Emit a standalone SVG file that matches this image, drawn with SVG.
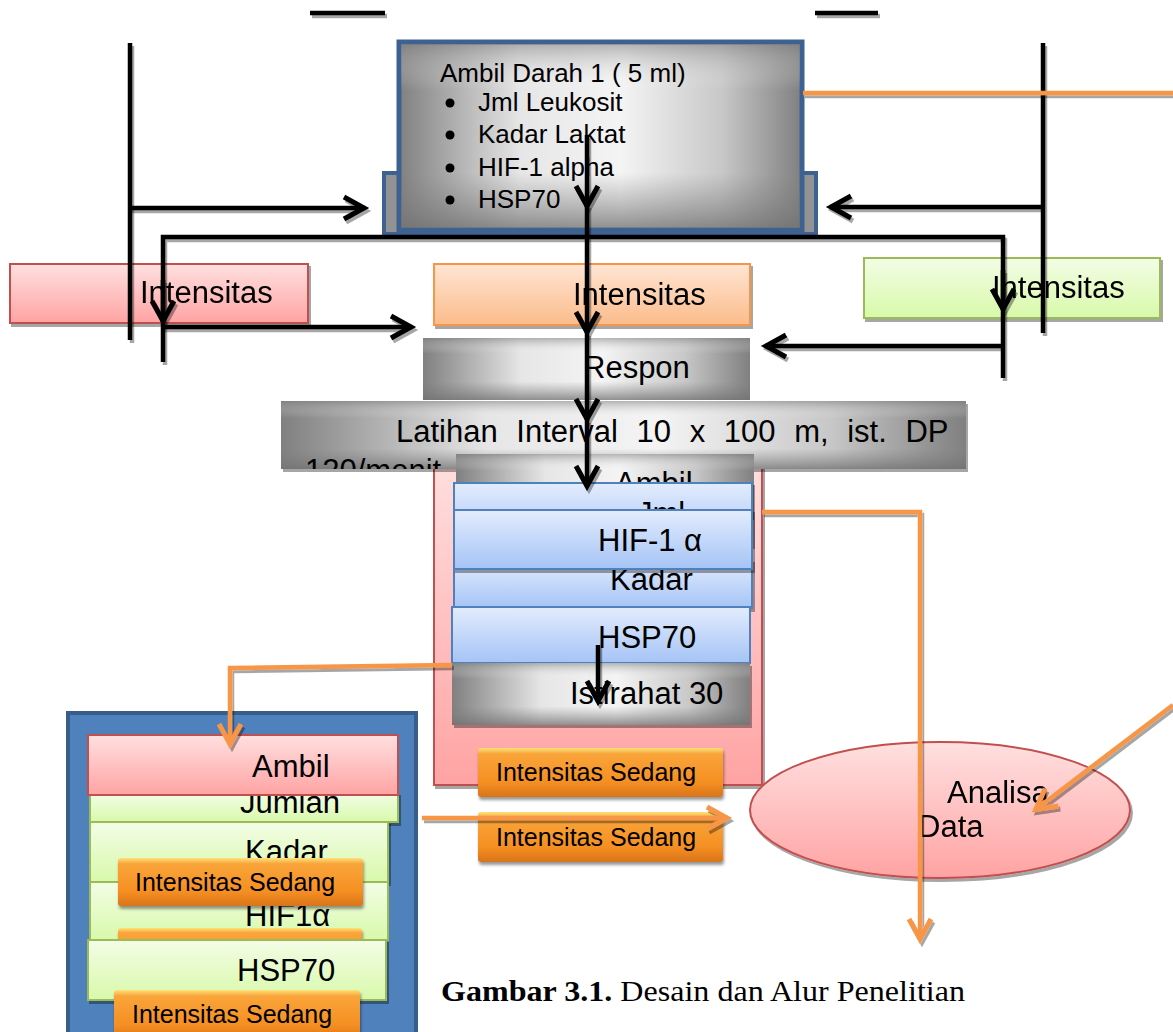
<svg xmlns="http://www.w3.org/2000/svg" width="1173" height="1032" viewBox="0 0 1173 1032">
<style>
text{font-family:"Liberation Sans",Arial,sans-serif;fill:#000}
.big{font-size:31px}
.mid{font-size:26px}
.btn{font-size:25px}
.cap{font-family:"Liberation Serif","Times New Roman",serif;font-size:29px}
.ln{fill:none;stroke:#000;stroke-width:4.5;filter:url(#shl)}
.ol{fill:none;stroke:#f79646;stroke-width:4.5;filter:url(#shl)}
.pink{fill:url(#gPink);stroke:#c0504d;stroke-width:2}
.peach{fill:url(#gPeach);stroke:#f79646;stroke-width:2}
.green{fill:url(#gGreen);stroke:#9bbb59;stroke-width:2}
.blue{fill:url(#gBlue);stroke:#4f81bd;stroke-width:2}
.gray{fill:url(#gGrayH)}
.grayv{fill:url(#gGrayV)}
.obtn{fill:url(#gOrange);filter:url(#sh2)}
.shd{filter:url(#sh)}
</style>
<defs>
<filter id="sh" x="-10%" y="-10%" width="130%" height="140%"><feDropShadow dx="2" dy="3" stdDeviation="0.6" flood-color="#000" flood-opacity="0.35"/></filter>
<filter id="shl" filterUnits="userSpaceOnUse" x="-20" y="-20" width="1220" height="1080"><feDropShadow dx="2" dy="3" stdDeviation="0.6" flood-color="#000" flood-opacity="0.35"/></filter>
<filter id="sh2" x="-10%" y="-10%" width="130%" height="140%"><feDropShadow dx="1" dy="3" stdDeviation="1.5" flood-color="#000" flood-opacity="0.4"/></filter>
<linearGradient id="gPink" x1="0" y1="0" x2="0" y2="1"><stop offset="0" stop-color="#ffe0e0"/><stop offset="1" stop-color="#ffa3a3"/></linearGradient>
<linearGradient id="gPeach" x1="0" y1="0" x2="0" y2="1"><stop offset="0" stop-color="#ffe5d4"/><stop offset="1" stop-color="#fbbc8b"/></linearGradient>
<linearGradient id="gGreen" x1="0" y1="0" x2="0" y2="1"><stop offset="0" stop-color="#f3fde6"/><stop offset="1" stop-color="#d8f9aa"/></linearGradient>
<linearGradient id="gBlue" x1="0" y1="0" x2="0" y2="1"><stop offset="0" stop-color="#e3ecfd"/><stop offset="1" stop-color="#a5c4f6"/></linearGradient>
<linearGradient id="gOrange" x1="0" y1="0" x2="0" y2="1"><stop offset="0" stop-color="#fde17a"/><stop offset="0.12" stop-color="#f9a53a"/><stop offset="0.7" stop-color="#f58f22"/><stop offset="1" stop-color="#d9741a"/></linearGradient>
<linearGradient id="gGrayH" x1="0" y1="0" x2="1" y2="0"><stop offset="0" stop-color="#808080"/><stop offset="0.3" stop-color="#e6e6e6"/><stop offset="0.55" stop-color="#f4f4f4"/><stop offset="0.8" stop-color="#c8c8c8"/><stop offset="1" stop-color="#808080"/></linearGradient>
<linearGradient id="gGrayV" x1="0" y1="0" x2="0" y2="1"><stop offset="0" stop-color="#808080" stop-opacity="0.55"/><stop offset="0.25" stop-color="#ffffff" stop-opacity="0"/><stop offset="0.7" stop-color="#808080" stop-opacity="0"/><stop offset="1" stop-color="#707070" stop-opacity="0.75"/></linearGradient>
<marker id="ab" markerUnits="userSpaceOnUse" markerWidth="34" markerHeight="34" refX="24" refY="14" orient="auto"><path d="M3,3 L23,14 L3,25" fill="none" stroke="#000" stroke-width="5"/></marker>
<marker id="ao" markerUnits="userSpaceOnUse" markerWidth="34" markerHeight="34" refX="24" refY="14" orient="auto"><path d="M3,3 L23,14 L3,25" fill="none" stroke="#f79646" stroke-width="5"/></marker>
<clipPath id="clipLat"><rect x="281" y="401" width="685" height="68"/></clipPath>
</defs>

<g id="top-bars">
<line class="ln" x1="310" y1="13" x2="385" y2="13"/>
<line class="ln" x1="815" y1="13" x2="878" y2="13"/>
</g>

<g id="node-ambil-darah-1">
<rect x="384" y="173" width="432" height="61" fill="#939393" stroke="#3d6292" stroke-width="4"/>
<rect x="399" y="42" width="403" height="188" class="gray" stroke="#3d6292" stroke-width="5"/>
<rect x="401" y="44" width="399" height="184" class="grayv"/>
<text x="440" y="82" class="mid">Ambil Darah 1 ( 5 ml)</text>
<circle cx="450" cy="103" r="4.5"/><text x="478" y="111" class="mid">Jml Leukosit</text>
<circle cx="450" cy="135" r="4.5"/><text x="478" y="143" class="mid">Kadar Laktat</text>
<circle cx="450" cy="168" r="4.5"/><text x="478" y="176" class="mid">HIF-1 alpha</text>
<circle cx="450" cy="200" r="4.5"/><text x="478" y="208" class="mid">HSP70</text>
</g>

<g id="node-intensitas-red" class="shd">
<rect x="10" y="264" width="298" height="59" class="pink"/>
<text x="140" y="303" class="big">Intensitas</text>
</g>
<g id="node-intensitas-orange" class="shd">
<rect x="434" y="264" width="316" height="61" class="peach"/>
<text x="573" y="305" class="big">Intensitas</text>
</g>
<g id="node-intensitas-green" class="shd">
<rect x="864" y="258" width="296" height="60" class="green"/>
<text x="992" y="298" class="big">Intensitas</text>
</g>

<g id="node-respon">
<rect x="423" y="338" width="327" height="62" class="gray"/>
<rect x="423" y="338" width="327" height="62" class="grayv"/>
<text x="583" y="378" class="big">Respon</text>
</g>

<g id="node-container-center">
<rect x="434" y="455" width="328" height="330" class="pink shd"/>
</g>

<g id="node-latihan">
<rect x="281" y="401" width="685" height="68" class="gray shd"/>
<rect x="281" y="401" width="685" height="68" class="grayv"/>
<g clip-path="url(#clipLat)">
<text x="396" y="442" class="big" word-spacing="10">Latihan Interval 10 x 100 m, ist. DP</text>
<text x="305" y="481" class="big" word-spacing="10">120/menit</text>
</g>
</g>

<g id="node-ambil-center">
<rect x="456" y="454" width="298" height="66" class="gray"/>
<rect x="456" y="454" width="298" height="66" class="grayv"/>
<text x="615" y="494" class="big">Ambil</text>
</g>
<g id="node-jml-center">
<rect x="454" y="483" width="298" height="62" class="blue shd"/>
<text x="637" y="524" class="big">Jml</text>
</g>
<g id="node-kadar-center">
<rect x="454" y="560" width="298" height="48" class="blue shd"/>
<text x="610" y="590" class="big">Kadar</text>
</g>
<g id="node-hif-center">
<rect x="454" y="510" width="298" height="59" class="blue shd"/>
<text x="598" y="551" class="big">HIF-1 α</text>
</g>
<g id="node-hsp-center">
<rect x="452" y="607" width="298" height="56" class="blue"/>
<text x="598" y="648" class="big">HSP70</text>
</g>
<g id="node-istirahat">
<rect x="452" y="663" width="298" height="62" class="gray shd"/>
<rect x="452" y="663" width="298" height="62" class="grayv"/>
<text x="570" y="704" class="big">Istirahat 30</text>
</g>
<g id="node-sedang-c1">
<rect x="478" y="748" width="245" height="49" rx="3" class="obtn"/>
<text x="496" y="781" class="btn">Intensitas Sedang</text>
</g>
<g id="node-sedang-c2">
<rect x="478" y="812" width="245" height="50" rx="3" class="obtn"/>
<text x="496" y="846" class="btn">Intensitas Sedang</text>
</g>

<g id="node-analisa" class="shd">
<ellipse cx="940" cy="810" rx="190" ry="68" fill="url(#gPink)" stroke="#c0504d" stroke-width="2"/>
<text x="947" y="803" class="big">Analisa</text>
<text x="918" y="837" class="big">Data</text>
</g>

<g id="node-container-left">
<rect x="68" y="713" width="348" height="330" fill="#4f81bd" stroke="#385d8a" stroke-width="4"/>
</g>
<g id="node-jumlah-left">
<rect x="90" y="793" width="308" height="29" class="green shd"/>
<text x="240" y="813" class="big">Jumlah</text>
</g>
<g id="node-ambil-left">
<rect x="88" y="735" width="310" height="60" class="pink"/>
<text x="252" y="777" class="big">Ambil</text>
</g>
<g id="node-kadar-left">
<rect x="90" y="822" width="298" height="60" class="green shd"/>
<text x="245" y="862" class="big">Kadar</text>
</g>
<g id="node-hif-left">
<rect x="90" y="882" width="298" height="58" class="green"/>
<text x="245" y="926" class="big">HIF1α</text>
</g>
<g id="node-sedang-l1">
<rect x="118" y="858" width="245" height="48" rx="3" class="obtn"/>
<text x="135" y="891" class="btn">Intensitas Sedang</text>
</g>
<g id="node-sedang-l2">
<rect x="118" y="928" width="244" height="40" rx="3" class="obtn"/>
</g>
<g id="node-hsp-left">
<rect x="88" y="940" width="298" height="60" class="green shd"/>
<text x="237" y="981" class="big">HSP70</text>
</g>
<g id="node-sedang-l3">
<rect x="114" y="990" width="246" height="50" rx="3" class="obtn"/>
<text x="132" y="1023" class="btn">Intensitas Sedang</text>
</g>

<g id="caption">
<text x="441" y="1001" class="cap" textLength="524" lengthAdjust="spacingAndGlyphs"><tspan font-weight="bold">Gambar 3.1.</tspan> Desain dan Alur Penelitian</text>
</g>

<g id="connectors">
<line class="ln" x1="130" y1="43" x2="130" y2="340"/>
<path class="ln" d="M130,208 H365" marker-end="url(#ab)"/>
<line class="ln" x1="1043" y1="43" x2="1043" y2="333"/>
<path class="ln" d="M1043,207 H830" marker-end="url(#ab)"/>
<path class="ln" d="M163,362 V237 H1003 V378"/>
<path class="ln" d="M163,280 V322" marker-end="url(#ab)"/>
<path class="ln" d="M163,327 H412" marker-end="url(#ab)"/>
<path class="ln" d="M1003,270 V310" marker-end="url(#ab)"/>
<path class="ln" d="M1003,346 H765" marker-end="url(#ab)"/>
<path class="ln" d="M587,135 V207" marker-end="url(#ab)"/>
<path class="ln" d="M587,205 V333" marker-end="url(#ab)"/>
<path class="ln" d="M587,333 V420" marker-end="url(#ab)"/>
<path class="ln" d="M587,420 V487" marker-end="url(#ab)"/>
<path class="ln" d="M598,645 V702" marker-end="url(#ab)"/>
<path class="ol" d="M803,93 H1173"/>
<path class="ol" d="M762,512 H920 V940" marker-end="url(#ao)"/>
<path class="ol" d="M1173,705 L1035,810" marker-end="url(#ao)"/>
<path class="ol" d="M452,665 L230,668 V745" marker-end="url(#ao)"/>
<path class="ol" d="M422,818 H728" marker-end="url(#ao)"/>
</g>
</svg>
